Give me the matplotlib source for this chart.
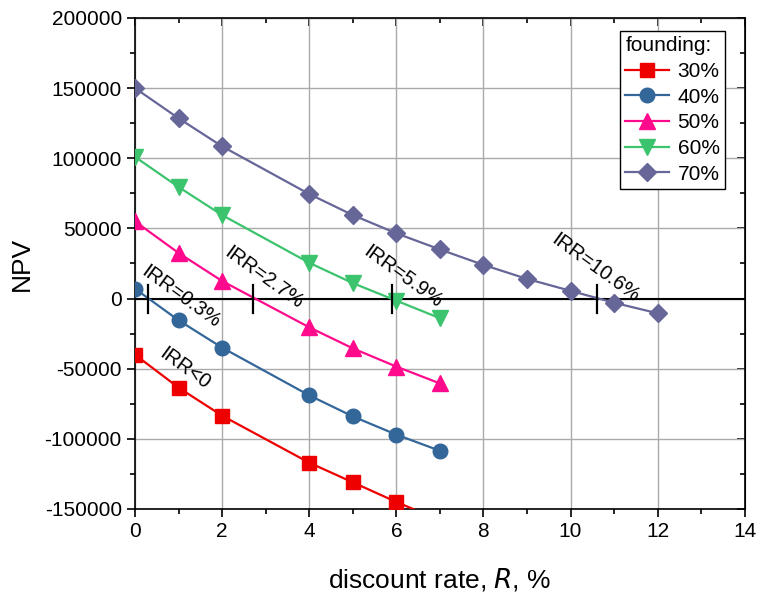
import numpy as np
import matplotlib
matplotlib.use('Agg')
import matplotlib.pyplot as plt

plt.rcParams['font.family'] = ['Liberation Sans', 'DejaVu Sans']
plt.rcParams['axes.unicode_minus'] = False

# discount rate, %
rate = [0, 1, 2, 4, 5, 6, 7]
rate70 = [0, 1, 2, 4, 5, 6, 7, 8, 9, 10, 11, 12]

npv30 = [-40000, -63500, -83500, -117000, -131000, -145000, -158000]
npv40 = [7000, -15500, -35000, -69000, -84000, -97000, -108500]
npv50 = [55000, 32500, 12500, -20500, -35500, -48500, -60500]
npv60 = [101000, 79500, 59500, 25500, 11000, -1500, -14000]
npv70 = [150000, 128500, 108500, 74500, 59500, 46500, 35000, 24000, 14000, 5500, -3000, -10500]

irr_vals = [0.3, 2.7, 5.9, 10.6]
irr_labels = ['IRR=0.3%', 'IRR=2.7%', 'IRR=5.9%', 'IRR=10.6%']
irr_text_xy = [(1.05, 1500), (2.95, 15000), (6.15, 15500), (10.57, 22000)]

series = [
    ('30%', rate, npv30, '#ee0000', 's', 9.5),
    ('40%', rate, npv40, '#336699', 'o', 10.5),
    ('50%', rate, npv50, '#ff0a8c', '^', 11),
    ('60%', rate, npv60, '#3cc36e', 'v', 11),
    ('70%', rate70, npv70, '#666699', 'D', 9.5),
]

fig = plt.figure(figsize=(7.67, 5.93), dpi=100)
ax = fig.add_axes([0.176, 0.1417, 0.795, 0.828])

ax.axhline(0, color='black', lw=1.5, zorder=2)

for name, xs, ys, c, m, ms in series:
    ax.plot(xs, ys, color=c, marker=m, markersize=ms, lw=1.6, label=name, zorder=3)

for xv in irr_vals:
    ax.plot([xv, xv], [-10000, 10000], color='black', lw=1.6, zorder=4)

for lab, (tx, ty) in zip(irr_labels, irr_text_xy):
    ax.text(tx, ty, lab, rotation=-36, ha='center', va='center', fontsize=14.5,
            rotation_mode='anchor', zorder=5)
ax.text(1.15, -50000, 'IRR<0', rotation=-36, ha='center', va='center', fontsize=14.5,
        rotation_mode='anchor', zorder=5)

ax.set_xlim(0, 14)
ax.set_ylim(-150000, 200000)
ax.set_xticks(np.arange(0, 15, 2))
ax.set_xticks(np.arange(1, 14, 2), minor=True)
ax.set_yticks(np.arange(-150000, 200001, 50000))
ax.set_yticks(np.arange(-125000, 200000, 50000), minor=True)
ax.grid(True, which='major', color='#aaaaaa', lw=1.0, zorder=0)
ax.set_axisbelow(True)

ax.tick_params(axis='both', which='major', direction='out', length=6, width=1.2,
               labelsize=15)
ax.tick_params(axis='both', which='minor', direction='out', length=3.5, width=1.2)
for spine in ax.spines.values():
    spine.set_linewidth(1.2)

# inward ticks on the top and right sides
sec_x = ax.secondary_xaxis('top')
sec_x.set_xticks(np.arange(0, 15, 2))
sec_x.set_xticks(np.arange(1, 14, 2), minor=True)
sec_x.tick_params(which='major', direction='in', length=6, width=1.2, labeltop=False)
sec_x.tick_params(which='minor', direction='in', length=3.5, width=1.2)
sec_y = ax.secondary_yaxis('right')
sec_y.set_yticks(np.arange(-150000, 200001, 50000))
sec_y.set_yticks(np.arange(-125000, 200000, 50000), minor=True)
sec_y.tick_params(which='major', direction='in', length=6, width=1.2, labelright=False)
sec_y.tick_params(which='minor', direction='in', length=3.5, width=1.2)

ax.set_xlabel('discount rate, $\\it{R}$, %', fontsize=19, labelpad=18)
ax.set_ylabel('NPV', fontsize=19, labelpad=8)

leg = ax.legend(title='founding:', loc='upper right', bbox_to_anchor=(0.974, 0.982),
                fontsize=15, title_fontsize=15, fancybox=False, edgecolor='black',
                framealpha=1, handlelength=2.1, borderpad=0.25, labelspacing=0.32,
                handletextpad=0.4, borderaxespad=0.2)
leg._legend_box.align = 'left'
leg.get_frame().set_linewidth(1.0)

fig.savefig('out.png', dpi=100)
